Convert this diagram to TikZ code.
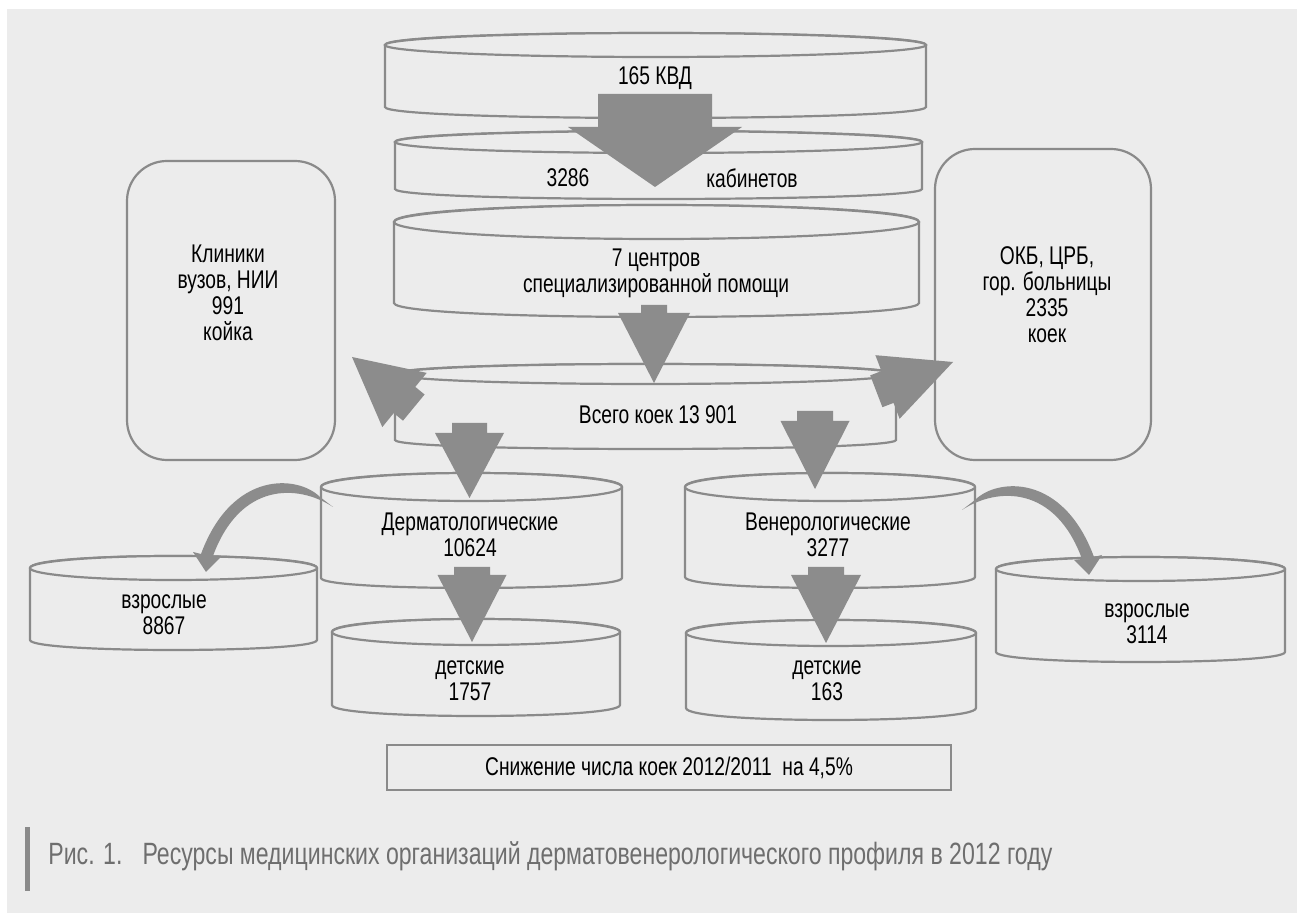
\documentclass[tikz,border=0pt]{standalone}
\usepackage{fontspec}
\setmainfont[FakeStretch=0.75]{Liberation Sans}
\definecolor{bgc}{HTML}{ECECEC}
\definecolor{lnc}{HTML}{8A8A8A}
\definecolor{arrowc}{HTML}{8C8C8C}
\definecolor{capc}{HTML}{6E6E6E}
\tikzset{
  cylline/.style={draw=lnc, line width=1.1pt, fill=bgc},
  blockarrow/.style={fill=arrowc},
  lbl/.style={inner sep=0pt, align=center, font=\fontsize{12.8}{13}\selectfont, text=black},
  roundbox/.style={draw=lnc, line width=1.1pt, rounded corners=20pt},
}
\newcommand\cylshape[6]{%
  \pgfmathsetmacro\cylcx{(#1+#2)/2}%
  \pgfmathsetmacro\cylrx{(#2-#1)/2}%
  \filldraw[cylline] (#1,#3) -- (#1,#4) .. controls (#1,#4+1.333*#6) and (#2,#4+1.333*#6) .. (#2,#4) -- (#2,#3) .. controls (#2,#3-1.333*#5) and (#1,#3-1.333*#5) .. cycle;
  \draw[cylline] (\cylcx,#3) ellipse [x radius=\cylrx, y radius=#5];
}
\newcommand\blockdown[6]{%
  \fill[blockarrow] (#1-#2,#3) -- (#1+#2,#3) -- (#1+#2,#5) -- (#1+#4,#5) -- (#1,#6) -- (#1-#4,#5) -- (#1-#2,#5) -- cycle;
}
\begin{document}
\begin{tikzpicture}[x=0.5pt, y=-0.5pt]
\useasboundingbox (0,0) rectangle (1297,913);
\fill[white] (0,0) rectangle (1297,913);
\fill[bgc] (7,9) rectangle (1297,913);

% rounded boxes
\draw[roundbox] (127,161) rectangle (335,460);
\draw[roundbox] (935,149) rectangle (1151,460);

% cylinders
\cylshape{385}{926}{45}{107}{12}{11}
\cylshape{395}{922}{142}{189}{11}{10}
\cylshape{394}{919}{222}{303}{17}{14}
\cylshape{395}{896}{374}{440}{10}{9}
\cylshape{321}{622}{487}{578}{14}{10}
\cylshape{685}{975}{487}{577}{14}{11}
\cylshape{30}{317}{568}{640}{12}{10}
\cylshape{996}{1285}{569}{652}{12}{10}
\cylshape{332}{620}{632}{705}{13}{11}
\cylshape{686}{976}{633}{708}{13}{12}

% block arrows
\blockdown{655}{57}{94}{87}{127}{187}
\blockdown{654}{13}{305}{36}{313}{383}
\blockdown{469.5}{17.5}{423}{34.5}{433}{498}
\blockdown{815}{18}{411}{34.5}{421}{489}
\blockdown{472}{18}{567}{34.5}{575}{642}
\blockdown{826}{18}{567}{35}{575}{643}

% diagonal arrows
\fill[blockarrow] (352,357) -- (426.7,372.9) -- (415.3,386.9) -- (424.6,394.5) -- (403.0,420.7) -- (393.7,413.1) -- (382.3,427.1) -- cycle;
\fill[blockarrow] (953,362) -- (875.4,355.2) -- (881.4,371.1) -- (870.2,375.4) -- (882.4,407.2) -- (893.6,402.9) -- (899.6,418.8) -- cycle;

% curved arrows
\fill[blockarrow] (320,497) .. controls (298,475) and (232,470) .. (201,554) -- (193,552) -- (206,572) -- (221,557) -- (213,556) .. controls (240,482) and (298,484) .. (333,507) -- cycle;
\fill[blockarrow] (975,500) .. controls (997,478) and (1063,473) .. (1094,557) -- (1102,555) -- (1089,575) -- (1074,560) -- (1082,559) .. controls (1055,485) and (997,487) .. (962,510) -- cycle;

% labels
\node[lbl] (kvd) at (655,78) {165 КВД};
\node[lbl] (kabn) at (568,178) {3286};
\node[lbl] (kabt) at (752,178) {кабинетов};
\node[lbl] (centr) at (656,273) {7 центров\\специализированной помощи};
\node[lbl] (vsego) at (658,415) {Всего коек 13 901};
\node[lbl] (klin) at (228,293) {Клиники\\вузов, НИИ\\991\\койка};
\node[lbl] (okb) at (1047,295) {ОКБ, ЦРБ,\\гор. больницы\\2335\\коек};
\node[lbl] (derm) at (470,535) {Дерматологические\\10624};
\node[lbl] (vener) at (828,535) {Венерологические\\3277};
\node[lbl] (vzrl) at (164,615) {взрослые\\8867};
\node[lbl] (vzrr) at (1147,624) {взрослые\\3114};
\node[lbl] (detl) at (470,681) {детские\\1757};
\node[lbl] (detr) at (827,681) {детские\\163};

% bottom box
\node[draw=lnc, line width=1.1pt, minimum width=282pt, minimum height=22.5pt, inner sep=0pt] (box) at (669,767.5) {};
\node[lbl] (boxt) at (669,768) {Снижение числа коек 2012/2011\ \ на 4,5\%};

% caption
\fill[lnc] (25,827) rectangle (30,891);
\node[inner sep=0pt, anchor=base west, text=capc, font=\fontsize{15.4}{17}\selectfont] (cap) at (48,865) {Рис. 1.\hspace{10pt}Ресурсы медицинских организаций дерматовенерологического профиля в 2012 году};
\end{tikzpicture}
\end{document}
